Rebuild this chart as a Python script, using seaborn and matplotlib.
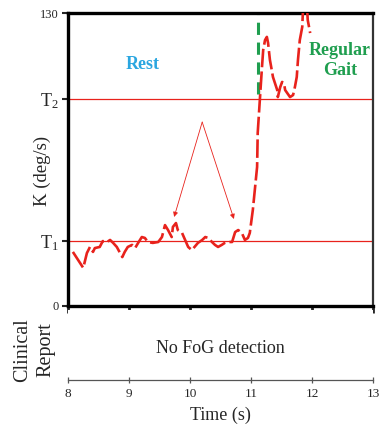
import numpy as np
import pandas as pd
import matplotlib
matplotlib.use("Agg")
import matplotlib.pyplot as plt
import seaborn as sns

# ---- data ----
time_s = [8.08, 8.25, 8.31, 8.36, 8.41, 8.44, 8.52, 8.57, 8.64, 8.69, 8.74, 8.80, 8.89, 8.93,
          8.98, 9.05, 9.10, 9.15, 9.21, 9.26, 9.31, 9.39, 9.48, 9.54, 9.59, 9.64, 9.70, 9.72,
          9.77, 9.80, 9.87, 9.92, 9.97, 10.03, 10.13, 10.20, 10.25, 10.30, 10.36, 10.41, 10.46,
          10.52, 10.57, 10.62, 10.69, 10.74, 10.79, 10.85, 10.90, 10.95, 10.98, 11.03, 11.10,
          11.11, 11.15, 11.15, 11.18, 11.20, 11.23, 11.26, 11.28, 11.31, 11.34, 11.36, 11.43,
          11.44, 11.48, 11.51, 11.54, 11.56, 11.64, 11.69, 11.72, 11.75, 11.77, 11.80, 11.84,
          11.85, 11.89, 11.92, 11.93, 11.97]
k_values = [24.0, 16.9, 23.5, 26.2, 24.0, 25.7, 26.2, 28.8, 28.4, 29.3, 28.0, 26.2, 21.7, 24.0,
            26.2, 27.1, 25.7, 28.0, 30.6, 30.2, 28.4, 28.0, 28.4, 30.6, 35.9, 33.7, 30.6, 35.1,
            36.8, 33.7, 32.4, 29.3, 26.2, 24.8, 28.0, 29.3, 30.6, 30.2, 28.4, 27.1, 26.2,
            27.1, 28.0, 28.4, 28.4, 32.8, 33.7, 32.4, 29.3, 30.2, 32.4, 42.6, 61.7,
            76.8, 91.4, 95.8, 106.0, 113.6, 118.0, 119.4, 116.7, 109.2, 104.7, 101.6, 95.8,
            92.7, 97.2, 99.4, 98.9, 95.8, 92.7, 93.6, 97.2, 101.6, 109.2, 118.0, 123.8,
            130.0, 134.0, 132.0, 126.9, 121.1]
T1 = 29
T2 = 92
y_max = 130
x_ticks = [8, 9, 10, 11, 12, 13]
onset_time = 11.11
arrow_apex = (10.20, 81.6)
arrow_targets = [(9.74, 39.5), (10.72, 38.6)]

df = pd.DataFrame({"time": time_s, "K": k_values})

sns.set_style("white")
plt.rcParams["font.family"] = ["Liberation Serif", "DejaVu Serif"]
plt.rcParams["mathtext.default"] = "regular"

fig = plt.figure(figsize=(3.8, 4.32), dpi=100)
W, H = 380, 432
ax = fig.add_axes([68 / W, (H - 306) / H, 305 / W, 293 / H])
ax2 = fig.add_axes([68 / W, (H - 380) / H, 305 / W, 70 / H])

red = "#e8221c"
ax.axhline(T1, color=red, lw=0.9, zorder=1)
ax.axhline(T2, color=red, lw=0.9, zorder=1)
ax.plot([onset_time, onset_time], [T2 + 2, y_max], color="#1f9e4f", lw=2.2,
        linestyle=(0, (4, 2.5)), zorder=2)
sns.lineplot(data=df, x="time", y="K", ax=ax, color=red, lw=1.9, sort=False,
             linestyle=(0, (7, 1.6)), zorder=3)

for tx, ty in arrow_targets:
    ax.annotate("", xy=(tx, ty), xytext=arrow_apex,
                arrowprops=dict(arrowstyle="-|>", color=red, lw=0.6,
                                mutation_scale=7, shrinkA=0, shrinkB=0))

ax.text(9.23, 107, "Rest", color="#2aa6e0", fontsize=13, fontweight="bold",
        ha="center", va="center")
ax.text(12.46, 109, "Regular\nGait", color="#1f9e4f", fontsize=13, fontweight="bold",
        ha="center", va="center", linespacing=1.2)

ax.set_xlim(8, 13)
ax.set_ylim(0, y_max)
ax.set_xticks(x_ticks)
ax.set_xticklabels([])
ax.set_yticks([0, T1, T2, y_max])
ax.set_yticklabels(["0", "$T_1$", "$T_2$", "130"])
labs = ax.get_yticklabels()
labs[0].set_fontsize(9)
labs[3].set_fontsize(9)
labs[1].set_fontsize(13)
labs[2].set_fontsize(13)
ticks = ax.yaxis.get_major_ticks()
for i in (1, 2):
    ticks[i].tick1line.set_visible(False)
ax.tick_params(axis="y", direction="out", length=4, width=1.5, pad=3, left=True)
ax.tick_params(axis="x", direction="out", length=5, width=2, bottom=True)
ax.set_xlabel("")
ax.set_ylabel("K (deg/s)", fontsize=13.5)
ax.yaxis.set_label_coords(-0.055, 0.46)
for s in ("top", "left", "bottom"):
    ax.spines[s].set_color("black")
    ax.spines[s].set_linewidth(2.4)
ax.spines["right"].set_color("#333333")
ax.spines["right"].set_linewidth(1.6)

# clinical report strip
ax2.set_xlim(8, 13)
ax2.set_ylim(0, 1)
ax2.set_xticks(x_ticks)
ax2.set_xticklabels([str(t) for t in x_ticks], fontsize=9.5)
ax2.set_yticks([])
for s in ("top", "left", "right"):
    ax2.spines[s].set_visible(False)
ax2.spines["bottom"].set_color("#555555")
ax2.spines["bottom"].set_linewidth(0.9)
ax2.tick_params(axis="x", direction="inout", length=5, width=0.9, color="#555555",
                bottom=True, pad=3)
ax2.text(10.5, 0.45, "No FoG detection", fontsize=13, ha="center", va="center")
ax2.set_xlabel("Time (s)", fontsize=13, labelpad=5)
ax2.set_ylabel("Clinical\nReport", fontsize=14.5, linespacing=1.3)
ax2.yaxis.set_label_coords(-0.04, 0.43)

fig.savefig("out.png", dpi=100)
